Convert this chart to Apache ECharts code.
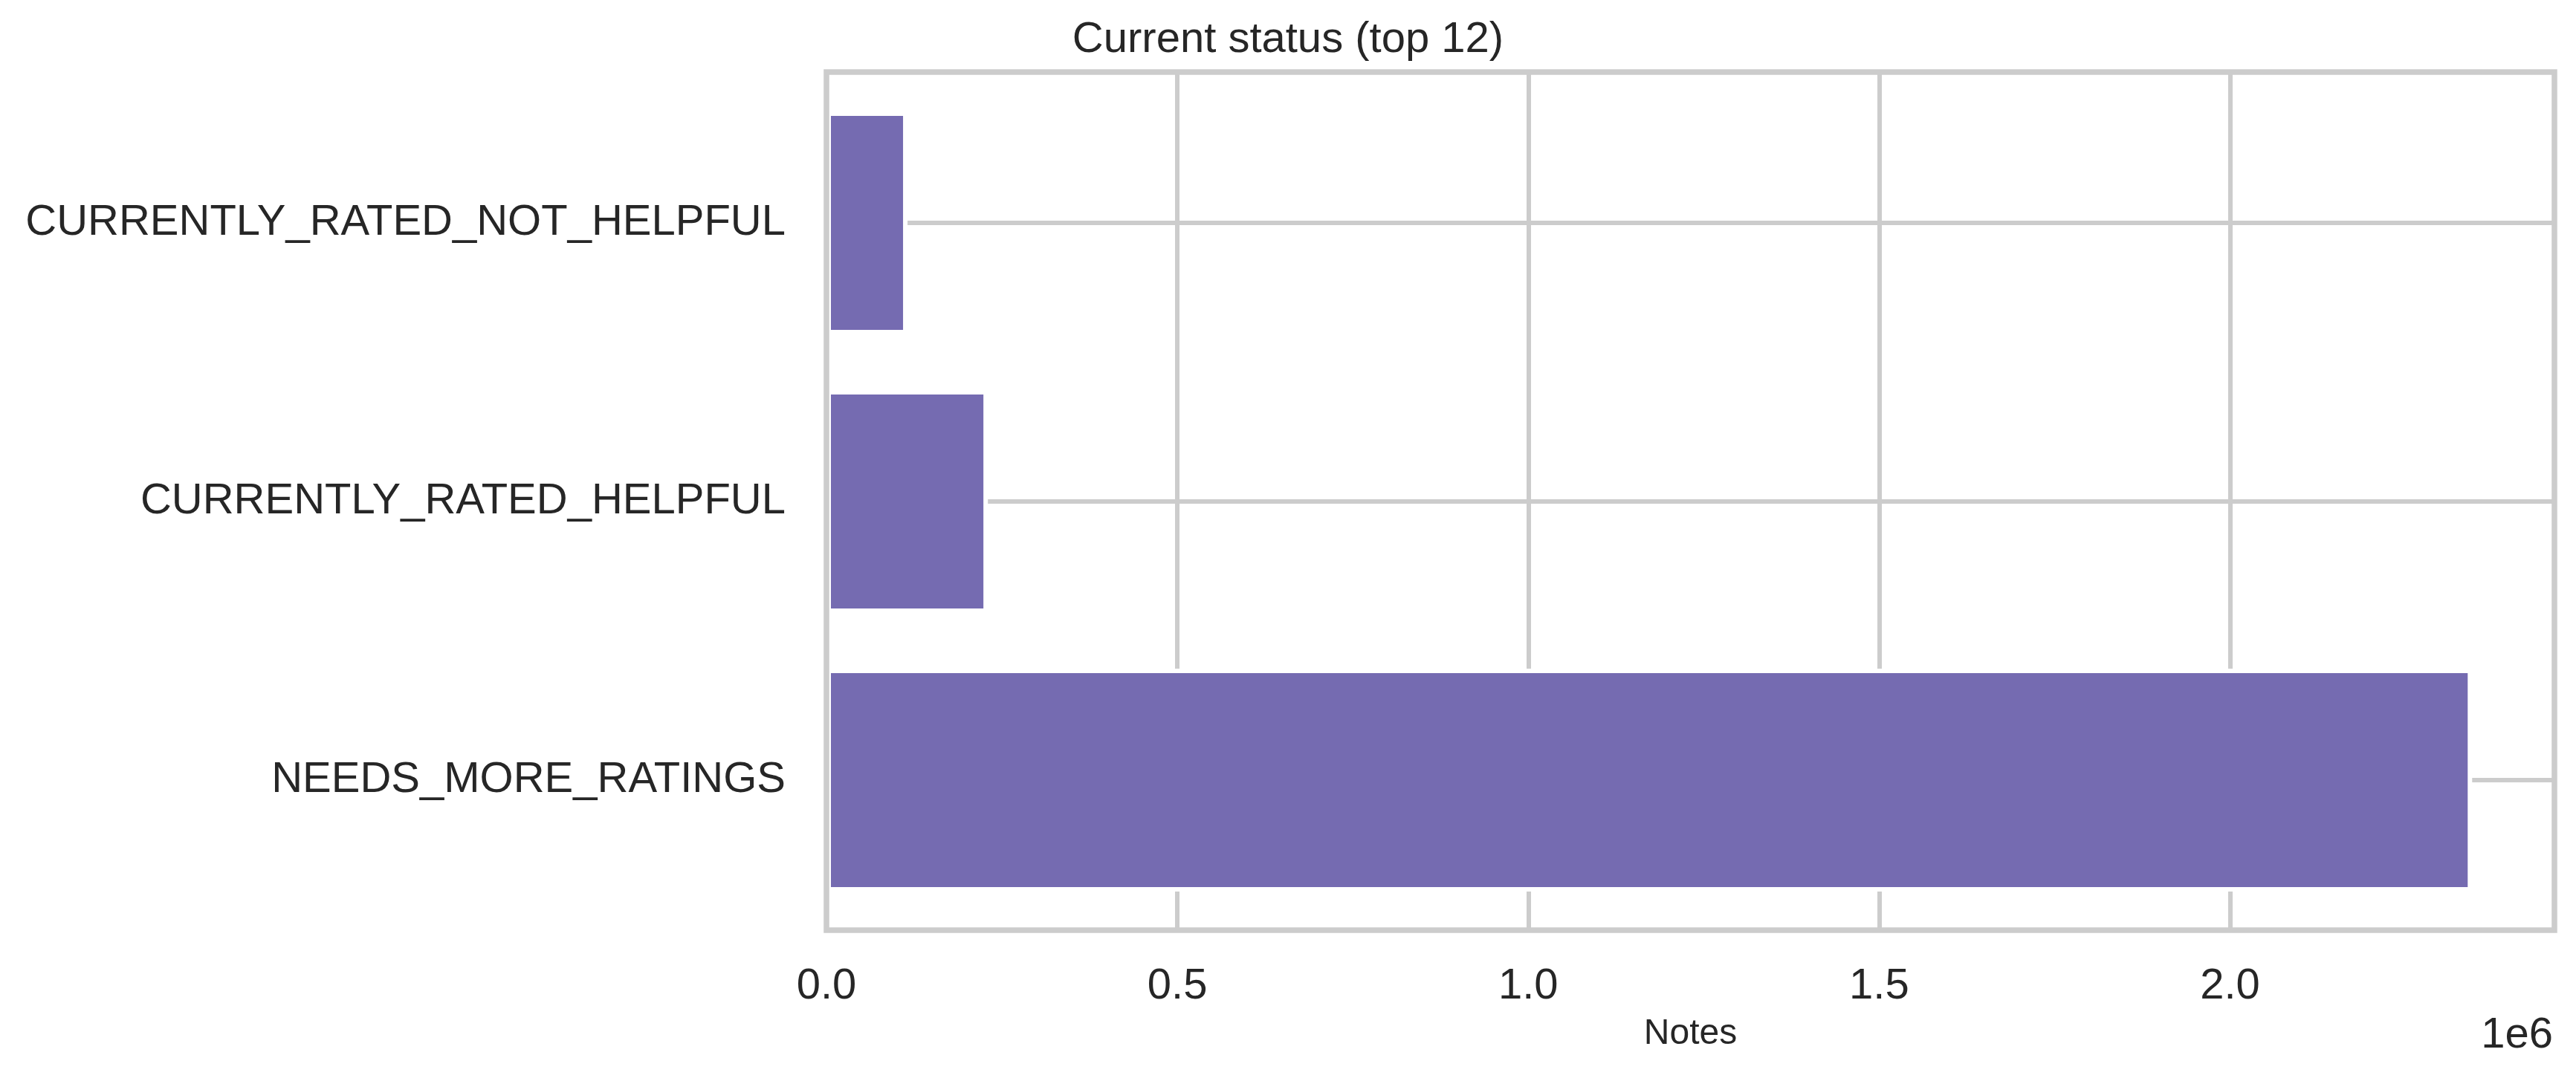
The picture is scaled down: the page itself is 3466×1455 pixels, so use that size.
<!DOCTYPE html>
<html>
<head>
<meta charset="utf-8">
<script src="https://cdn.jsdelivr.net/npm/echarts@6/dist/echarts.min.js"></script>
<style>
html,body{margin:0;padding:0;background:#fff;}
#chart{width:3466px;height:1455px;}
</style>
</head>
<body>
<div id="chart"></div>
<script>
// Categories listed bottom-to-top (as matplotlib barh draws them)
const categories = ['NEEDS_MORE_RATINGS', 'CURRENTLY_RATED_HELPFUL', 'CURRENTLY_RATED_NOT_HELPFUL'];
const noteCounts = [2345000, 230000, 115500];
const xTickInterval = 500000;
const titleText = 'Current status (top 12)';
const xAxisLabel = 'Notes';
const offsetText = '1e6';

const FONT = '"Liberation Sans", Arial, Helvetica, sans-serif';
const TXT = '#262626';
const GRIDC = '#cccccc';
const FS = 58;
const xMax = Math.max.apply(null, noteCounts) * 1.05;

const chart = echarts.init(document.getElementById('chart'), null, {renderer: 'canvas'});
chart.setOption({
  animation: false,
  backgroundColor: '#ffffff',
  textStyle: {fontFamily: FONT},
  title: [
    {text: titleText, left: 'center', top: 25, padding: 0,
     textStyle: {fontFamily: FONT, fontSize: FS, fontWeight: 'normal', color: TXT}},
    {text: xAxisLabel, left: 2274.5, top: 1368, padding: 0, textAlign: 'center',
     textStyle: {fontFamily: FONT, fontSize: 48, fontWeight: 'normal', color: TXT}},
    {text: offsetText, right: 31, top: 1365, padding: 0,
     textStyle: {fontFamily: FONT, fontSize: FS, fontWeight: 'normal', color: TXT}}
  ],
  grid: [
    {left: 1112, right: 29, top: 97, bottom: 203, show: true, z: 5,
     backgroundColor: 'transparent', borderColor: GRIDC, borderWidth: 7.5, containLabel: false},
    {left: 1112, right: 29, top: 300, bottom: 405, show: false, containLabel: false}
  ],
  xAxis: [
    {type: 'value', gridIndex: 0, min: 0, max: xMax, interval: xTickInterval,
     axisLine: {show: false}, axisTick: {show: false},
     splitLine: {show: true, lineStyle: {color: GRIDC, width: 6}},
     axisLabel: {show: true, margin: 47, fontSize: FS, color: TXT, fontFamily: FONT,
       showMaxLabel: false,
       formatter: function (v) { return (v / 1e6).toFixed(1); }}},
    {type: 'value', gridIndex: 1, min: 0, max: xMax, show: false}
  ],
  yAxis: [
    {type: 'value', gridIndex: 0, min: 0, max: 1, show: false},
    {type: 'category', gridIndex: 1, data: categories, boundaryGap: false,
     axisLine: {show: false}, axisTick: {show: false},
     splitLine: {show: true, lineStyle: {color: GRIDC, width: 6}},
     axisLabel: {show: true, margin: 55, fontSize: FS, color: TXT, fontFamily: FONT}}
  ],
  series: [
    {type: 'bar', xAxisIndex: 1, yAxisIndex: 1, data: noteCounts,
     barWidth: 300, clip: false,
     itemStyle: {color: '#756bb1', borderColor: '#ffffff', borderWidth: 6}}
  ]
});
</script>
</body>
</html>
